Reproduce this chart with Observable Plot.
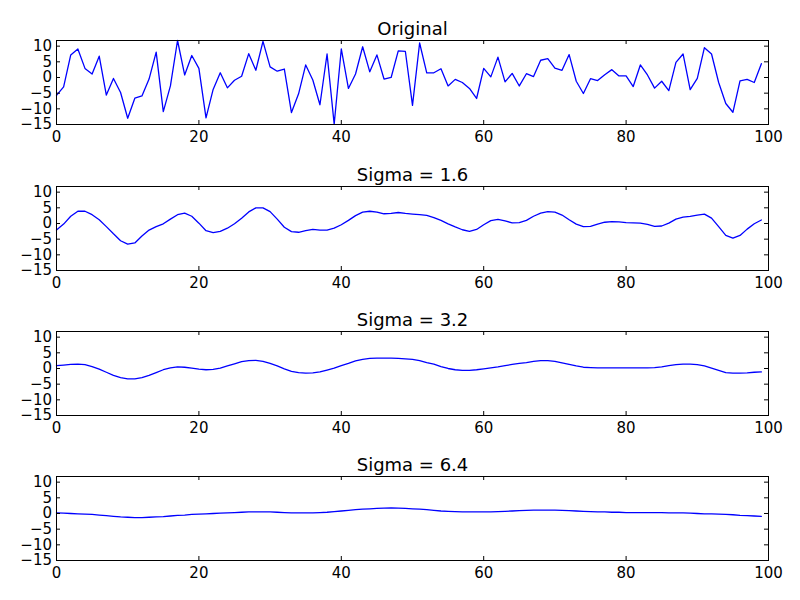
<!DOCTYPE html>
<html>
<head>
<meta charset="utf-8">
<script src="https://cdn.jsdelivr.net/npm/d3@7"></script>
<script src="https://cdn.jsdelivr.net/npm/@observablehq/plot@0.6"></script>
<style>
  html, body { margin: 0; padding: 0; background: white; }
  #wrap { position: relative; width: 800px; height: 600px; background: white; }
  #wrap svg { position: absolute; left: 0; }
</style>
</head>
<body>
<div id="wrap"></div>
<script>
const titles = ["Original", "Sigma = 1.6", "Sigma = 3.2", "Sigma = 6.4"];
const xTicks = [0, 20, 40, 60, 80, 100];
const yTicks = [-15, -10, -5, 0, 5, 10];

const original = [
  -5.7, -3.0, 7.2, 9.1, 2.9, 1.1, 6.8, -5.6, -0.3, -4.8,
  -13.0, -6.6, -5.9, -0.5, 8.1, -10.9, -2.7, 11.8, 0.8, 7.0,
  2.9, -12.9, -3.8, 1.5, -3.3, -0.9, 0.4, 7.6, 2.3, 11.5,
  3.4, 2.0, 2.7, -11.2, -5.2, 4.0, -0.8, -8.7, 7.5, -14.9,
  9.1, -3.5, 1.1, 9.8, 1.8, 7.2, -0.5, 0.0, 8.5, 8.3,
  -8.9, 11.0, 1.5, 1.5, 2.8, -2.7, -0.6, -1.6, -3.5, -6.7,
  2.9, 0.2, 6.5, -1.4, 1.3, -2.7, 1.2, 0.3, 5.5, 6.0,
  3.0, 2.3, 7.3, -1.2, -5.1, -0.4, -1.0, 0.9, 2.5, 0.5,
  0.5, -2.9, 4.0, 0.8, -3.4, -1.2, -4.2, 4.8, 7.5, -3.9,
  -0.3, 9.5, 7.5, -1.6, -8.3, -11.1, -1.1, -0.6, -1.6, 4.4
];

const sigma16 = [
  -2.1, -0.2, 2.3, 3.9, 3.9, 2.8, 1.2, -1.0, -3.3, -5.5,
  -6.6, -6.2, -4.0, -2.1, -1.0, -0.1, 1.4, 2.8, 3.3, 2.3,
  0.1, -2.3, -2.9, -2.5, -1.5, -0.1, 1.7, 3.7, 5.0, 5.0,
  3.8, 1.4, -1.2, -2.6, -2.8, -2.3, -1.9, -2.1, -2.1, -1.5,
  -0.4, 1.0, 2.5, 3.6, 3.9, 3.6, 3.1, 3.2, 3.5, 3.2,
  3.0, 2.8, 2.6, 1.9, 1.0, -0.1, -1.1, -2.0, -2.5, -1.9,
  -0.4, 0.9, 1.3, 0.8, 0.2, 0.3, 1.0, 2.3, 3.3, 3.8,
  3.6, 2.7, 1.2, -0.2, -1.0, -0.9, -0.2, 0.4, 0.6, 0.5,
  0.3, 0.2, 0.1, -0.3, -0.9, -0.8, 0.1, 1.4, 2.0, 2.3,
  2.7, 3.0, 1.7, -1.0, -3.8, -4.7, -3.8, -1.8, -0.1, 1.1
];

const sigma32 = [
  0.9, 1.1, 1.3, 1.4, 1.2, 0.6, -0.2, -1.2, -2.2, -2.9,
  -3.3, -3.3, -2.9, -2.2, -1.3, -0.4, 0.2, 0.5, 0.4, 0.1,
  -0.2, -0.4, -0.3, 0.1, 0.8, 1.5, 2.2, 2.5, 2.6, 2.3,
  1.6, 0.8, -0.1, -0.9, -1.3, -1.5, -1.4, -1.1, -0.5, 0.1,
  0.9, 1.6, 2.4, 2.9, 3.2, 3.3, 3.3, 3.3, 3.2, 3.05,
  2.9, 2.5, 1.9, 1.4, 0.6, 0.0, -0.4, -0.6, -0.6, -0.4,
  -0.1, 0.2, 0.5, 0.9, 1.3, 1.6, 1.9, 2.3, 2.5, 2.5,
  2.3, 1.8, 1.3, 0.8, 0.4, 0.3, 0.2, 0.2, 0.2, 0.2,
  0.2, 0.2, 0.2, 0.2, 0.3, 0.5, 0.9, 1.2, 1.4, 1.4,
  1.2, 0.8, 0.1, -0.6, -1.3, -1.5, -1.5, -1.4, -1.2, -1.1
];

const sigma64 = [
  0.2, 0.1, 0.0, -0.1, -0.2, -0.3, -0.5, -0.7, -0.9, -1.1,
  -1.2, -1.3, -1.3, -1.2, -1.1, -1.0, -0.8, -0.6, -0.5, -0.3,
  -0.2, -0.1, 0.0, 0.1, 0.2, 0.3, 0.4, 0.5, 0.5, 0.5,
  0.5, 0.4, 0.3, 0.2, 0.2, 0.2, 0.2, 0.3, 0.4, 0.6,
  0.8, 1.0, 1.2, 1.4, 1.5, 1.6, 1.7, 1.8, 1.7, 1.6,
  1.5, 1.4, 1.2, 1.0, 0.8, 0.7, 0.6, 0.5, 0.5, 0.5,
  0.5, 0.5, 0.6, 0.7, 0.8, 0.9, 1.0, 1.1, 1.1, 1.1,
  1.1, 1.0, 0.9, 0.8, 0.7, 0.6, 0.5, 0.5, 0.4, 0.4,
  0.3, 0.3, 0.3, 0.3, 0.3, 0.3, 0.2, 0.2, 0.2, 0.1,
  0.0, -0.1, -0.1, -0.2, -0.3, -0.4, -0.6, -0.7, -0.8, -0.9
];

const series = [original, sigma16, sigma32, sigma64];
const tops = [0, 146, 291, 436];

function panel(title, values) {
  const data = values.map((v, i) => ({i, v}));
  return Plot.plot({
    width: 800,
    height: 146,
    marginTop: 40,
    marginBottom: 22,
    marginLeft: 56,
    marginRight: 32,
    style: {fontFamily: "DejaVu Sans", fontSize: "15px", background: "white", color: "black", overflow: "visible"},
    x: {domain: [0, 100]},
    y: {domain: [-15, 11.8]},
    marks: [
      Plot.line(data, {x: "i", y: "v", stroke: "#0000ff", strokeWidth: 1.3}),
      Plot.tickX(xTicks, {x: d => d, insetTop: 80, stroke: "black"}),
      Plot.tickX(xTicks, {x: d => d, insetBottom: 80, stroke: "black"}),
      Plot.tickY(yTicks, {y: d => d, insetRight: 708, stroke: "black"}),
      Plot.tickY(yTicks, {y: d => d, insetLeft: 708, stroke: "black"}),
      Plot.frame({stroke: "black", strokeWidth: 1}),
      Plot.axisX({ticks: xTicks, tickSize: 0, tickPadding: 7, label: null}),
      Plot.axisY({ticks: yTicks, tickSize: 0, tickPadding: 4.5, label: null}),
      Plot.text([title], {text: d => d, frameAnchor: "top", lineAnchor: "bottom", dy: -6, fontSize: 18, fill: "black"})
    ]
  });
}

const wrap = document.getElementById("wrap");
series.forEach((vals, k) => {
  const svg = panel(titles[k], vals);
  svg.style.top = tops[k] + "px";
  wrap.appendChild(svg);
});
</script>
</body>
</html>
